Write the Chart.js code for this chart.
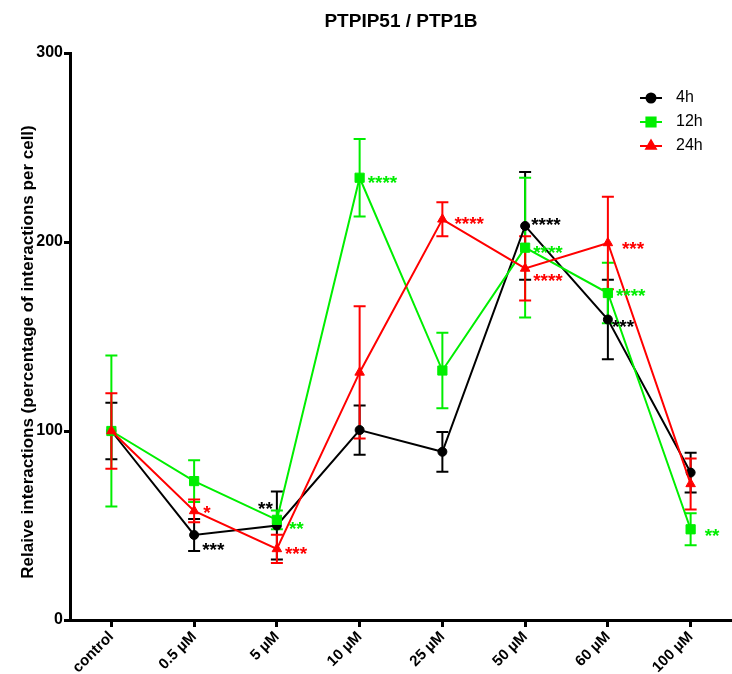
<!DOCTYPE html>
<html>
<head>
<meta charset="utf-8">
<script src="https://cdn.jsdelivr.net/npm/chart.js@4.4.0/dist/chart.umd.min.js"></script>
<style>
  body { margin: 0; background: #fff; overflow: hidden; }
  canvas { display: block; }
</style>
</head>
<body>
<canvas id="grafico" width="732" height="674"></canvas>
<script>
// categorias do eixo x
const categorias = ['control', '0.5 µM', '5 µM', '10 µM', '25 µM', '50 µM', '60 µM', '100 µM'];

// valores (média e erro)
const valores4h = [100, 45, 50, 100.5, 89, 208.5, 159, 78];
const erros4h = [15, 8.5, 18, 13, 10.5, 28.5, 21, 10.5];

const valores12h = [100, 73.5, 53, 234, 132, 197, 173, 48];
const erros12h = [40, 11, 5, 20.5, 20, 37, 16, 8.5];

const valores24h = [100, 57.7, 37.6, 131, 212, 186, 199.5, 72];
const erros24h = [20, 6, 7.5, 35, 9, 17, 24.5, 13.5];

// significância
const estrelas4h = ['', '***', '**', '', '', '****', '***', ''];
const estrelas12h = ['', '', '**', '****', '', '****', '****', '**'];
const estrelas24h = ['', '*', '***', '', '****', '****', '***', ''];

const ticksY = [0, 100, 200, 300];

// deslocamento das estrelas em px [dx, dy, alinhamento]
const posEstrelas = {
  '0-1': [8, 10, 'left'],
  '0-2': [-4, -22, 'right'],
  '0-5': [6, -6, 'left'],
  '0-6': [4, 3, 'left'],
  '1-2': [12, 4, 'left'],
  '1-5': [8, 0, 'left'],
  '1-6': [8, -2, 'left'],
  '1-7': [14, 2, 'left'],
  '2-1': [9, -3, 'left'],
  '2-4': [12, 0, 'left'],
  '2-5': [8, 8, 'left'],
  '2-6': [14, 1, 'left']
};

const fonte = "'Liberation Sans', Arial, sans-serif";

const extras = {
  id: 'extras',
  beforeDatasetsDraw(chart) {
    const ctx = chart.ctx;
    const y = chart.scales.y;
    ctx.save();
    chart.data.datasets.forEach(function (ds, i) {
      const meta = chart.getDatasetMeta(i);
      ctx.strokeStyle = ds.borderColor;
      ctx.lineWidth = 2;
      meta.data.forEach(function (pt, j) {
        const yTop = y.getPixelForValue(ds.data[j] + ds.erros[j]);
        const yBot = y.getPixelForValue(ds.data[j] - ds.erros[j]);
        ctx.beginPath();
        ctx.moveTo(pt.x, yTop);
        ctx.lineTo(pt.x, yBot);
        ctx.moveTo(pt.x - 6, yTop);
        ctx.lineTo(pt.x + 6, yTop);
        ctx.moveTo(pt.x - 6, yBot);
        ctx.lineTo(pt.x + 6, yBot);
        ctx.stroke();
      });
    });
    ctx.restore();
  },
  afterDatasetsDraw(chart) {
    const ctx = chart.ctx;
    ctx.save();
    ctx.font = 'bold 19px ' + fonte;
    ctx.textBaseline = 'alphabetic';
    chart.data.datasets.forEach(function (ds, i) {
      const meta = chart.getDatasetMeta(i);
      ctx.fillStyle = ds.borderColor;
      meta.data.forEach(function (pt, j) {
        if (!ds.estrelas[j]) return;
        const p = posEstrelas[i + '-' + j] || [8, 0, 'left'];
        ctx.textAlign = p[2];
        ctx.fillText(ds.estrelas[j], pt.x + p[0], pt.y + p[1] + 11);
      });
    });
    ctx.restore();
  },
  afterDraw(chart) {
    const ctx = chart.ctx;
    ctx.save();
    // legenda
    chart.data.datasets.forEach(function (ds, i) {
      const ly = 98 + 24 * i;
      ctx.strokeStyle = ds.borderColor;
      ctx.lineWidth = 2;
      ctx.beginPath();
      ctx.moveTo(640, ly);
      ctx.lineTo(662, ly);
      ctx.stroke();
      Chart.helpers.drawPoint(ctx, {
        pointStyle: ds.pointStyle,
        radius: ds.pointRadius,
        borderWidth: 1,
        rotation: 0
      }, 651, ly);
      ctx.fillStyle = ds.borderColor;
      ctx.fill();
      ctx.fillStyle = '#000';
      ctx.font = '16px ' + fonte;
      ctx.textAlign = 'left';
      ctx.textBaseline = 'middle';
      ctx.fillText(ds.label, 676, ly);
    });
    // titulo do eixo y
    ctx.translate(28, 352);
    ctx.rotate(-Math.PI / 2);
    ctx.font = 'bold 17px ' + fonte;
    ctx.fillStyle = '#000';
    ctx.textAlign = 'center';
    ctx.textBaseline = 'middle';
    ctx.fillText('Relaive interactions (percentage of interactions per cell)', 0, 0);
    ctx.restore();
  }
};

const dados = {
  labels: categorias,
  datasets: [
    {
      label: '4h',
      data: valores4h,
      erros: erros4h,
      estrelas: estrelas4h,
      borderColor: '#000000',
      backgroundColor: '#000000',
      pointStyle: 'circle',
      pointRadius: 4.5,
      order: 2
    },
    {
      label: '12h',
      data: valores12h,
      erros: erros12h,
      estrelas: estrelas12h,
      borderColor: '#00ee00',
      backgroundColor: '#00ee00',
      pointStyle: 'rect',
      pointRadius: 6.5,
      order: 1
    },
    {
      label: '24h',
      data: valores24h,
      erros: erros24h,
      estrelas: estrelas24h,
      borderColor: '#ff0000',
      backgroundColor: '#ff0000',
      pointStyle: 'triangle',
      pointRadius: 5.5,
      order: 0
    }
  ]
};

const config = {
  type: 'line',
  data: dados,
  options: {
    responsive: false,
    animation: false,
    devicePixelRatio: 1,
    layout: { padding: 0, autoPadding: false },
    elements: {
      line: { borderWidth: 2, tension: 0 },
      point: { borderWidth: 1, hoverRadius: 5 }
    },
    plugins: {
      legend: { display: false },
      tooltip: { enabled: false },
      title: {
        display: true,
        fullSize: false,
        text: 'PTPIP51 / PTP1B',
        color: '#000',
        font: { size: 19, weight: 'bold', family: fonte },
        padding: { top: 10.5, bottom: 19.7 }
      }
    },
    scales: {
      x: {
        offset: true,
        grid: {
          offset: false,
          drawOnChartArea: false,
          drawTicks: true,
          tickLength: 7,
          tickWidth: 3,
          tickColor: '#000'
        },
        border: { display: true, color: '#000', width: 3 },
        ticks: {
          autoSkip: false,
          maxRotation: 45,
          minRotation: 45,
          padding: 1,
          color: '#000',
          font: { size: 15, weight: 'bold', family: fonte }
        },
        afterFit(scale) {
          scale.height = 54;
          scale.paddingLeft = 0;
          scale.paddingRight = 0;
        }
      },
      y: {
        min: 0,
        max: 300,
        afterBuildTicks(scale) {
          scale.ticks = ticksY.map(function (v) { return { value: v }; });
        },
        grid: {
          drawOnChartArea: false,
          drawTicks: true,
          tickLength: 6,
          tickWidth: 3,
          tickColor: '#000'
        },
        border: { display: true, color: '#000', width: 3 },
        ticks: {
          padding: 1,
          color: '#000',
          font: { size: 16, weight: 'bold', family: fonte }
        },
        afterFit(scale) { scale.width = 70; }
      }
    }
  },
  plugins: [extras]
};

let grafico = new Chart(document.getElementById('grafico'), config);
</script>
</body>
</html>
